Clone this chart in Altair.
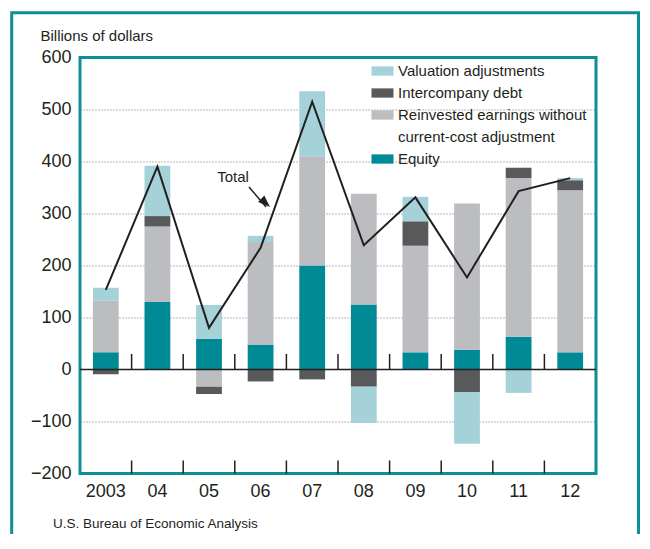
import altair as alt
import pandas as pd

# ---------------- data (billions of dollars) ----------------
years = ["2003", "04", "05", "06", "07", "08", "09", "10", "11", "12"]
equity = [33, 130, 59, 48, 200, 125, 33, 38, 63, 33]
reinvested = [99, 145, -33, 197, 210, 213, 205, 281, 305, 312]
intercompany = [-9, 20, -14, -23, -19, -33, 47, -44, 20, 19]
valuation = [25, 97, 65, 12, 125, -70, 47, -99, -45, 4]
total = [153, 390, 80, 234, 515, 239, 331, 177, 343, 368]

S_VAL = "Valuation adjustments"
S_DEBT = "Intercompany debt"
S_REINV = "Reinvested earnings without current-cost adjustment"
S_REINV2 = "current-cost adjustment"   # second legend line (no bars)
S_EQ = "Equity"

series_names = [S_EQ, S_REINV, S_DEBT, S_VAL]           # stacking order (bottom first)
series_values = [equity, reinvested, intercompany, valuation]
legend_order = [S_VAL, S_DEBT, S_REINV, S_REINV2, S_EQ]

# ---------------- styles ----------------
FONT = "Liberation Sans, Arial, Helvetica, sans-serif"
TXT = "#231f20"
TEAL_FRAME = "#0e8f97"
C_VAL = "#a5d2d8"
C_DEBT = "#58595b"
C_REINV = "#bcbdc1"
C_EQ = "#008a96"
legend_colors = [C_VAL, C_DEBT, C_REINV, "rgba(0,0,0,0)", C_EQ]

PLOT_W = 516
PLOT_H = 416
STEP = PLOT_W / len(years)

rows = []
for o, (name, vals) in enumerate(zip(series_names, series_values)):
    for yr, v in zip(years, vals):
        rows.append({"year": yr, "series": name, "value": v, "o": o})
df_bars = pd.DataFrame(rows)
df_total = pd.DataFrame({"year": years, "total": total})

# separator ticks: a short one rising from the zero line and one from the bottom edge
tick_years = years[:-1]
df_ticks = pd.DataFrame({
    "year": tick_years * 2,
    "ya": [0] * len(tick_years) + [-200] * len(tick_years),
    "yb": [30] * len(tick_years) + [-175] * len(tick_years),
})

YTITLE = "Billions of dollars"
xscale = alt.Scale(paddingInner=0.5, paddingOuter=0.25)
yscale = alt.Scale(domain=[-200, 600], nice=False, zero=False)

yaxis = alt.Axis(
    values=[-200, -100, 0, 100, 200, 300, 400, 500, 600],
    ticks=False, tickSize=0, domain=False, labelPadding=9,
    labelFontSize=18, labelFont=FONT, labelColor=TXT,
    grid=True, gridDash=[1, 2], gridColor="#6d6e71", gridWidth=1,
    gridOpacity={"condition": {"test": "datum.value == 0 || datum.value == 600 || datum.value == -200", "value": 0}, "value": 1},
    title=YTITLE, titleAngle=0, titleX=-40, titleY=-17, titleAlign="left",
    titleBaseline="alphabetic", titleFontSize=15, titleFontWeight="normal",
    titleFont=FONT, titleColor=TXT,
)
xaxis = alt.Axis(
    title=None, ticks=False, tickSize=0, domain=False, labelAngle=0,
    labelPadding=8.5, labelFontSize=18, labelFont=FONT, labelColor=TXT,
    labelBaseline="top", grid=False,
)

LEG_PATH = "M-1,-0.42H1V0.42H-1Z"
legend = alt.Legend(
    title=None, orient="none", legendX=291.5, legendY=2.5,
    symbolType=LEG_PATH, symbolSize=484, symbolStrokeWidth=0, symbolOpacity=1,
    labelFontSize=15, labelFont=FONT, labelColor=TXT, labelOffset=4.5,
    labelLimit=400, rowPadding=3, padding=0,
    labelExpr="datum.label == '" + S_REINV + "' ? 'Reinvested earnings without' : datum.label",
)

bars = alt.Chart(df_bars).mark_bar().encode(
    x=alt.X("year:N", sort=years, scale=xscale, axis=xaxis),
    y=alt.Y("value:Q", stack="zero", scale=yscale, axis=yaxis),
    color=alt.Color("series:N", scale=alt.Scale(domain=legend_order, range=legend_colors), legend=legend),
    order=alt.Order("o:Q", sort="ascending"),
)

zero_rule = alt.Chart(pd.DataFrame({"v": [0]})).mark_rule(color=TXT, strokeWidth=1.5).encode(
    y=alt.Y("v:Q", title=YTITLE)
)

# halfway between bars: band centre + half a step
ticks = alt.Chart(df_ticks).mark_rule(
    color=TXT, strokeWidth=1.5, xOffset=STEP / 2
).encode(
    x=alt.X("year:N", sort=years, title=None),
    y=alt.Y("ya:Q", title=YTITLE),
    y2=alt.Y2("yb"),
)

line = alt.Chart(df_total).mark_line(color=TXT, strokeWidth=2).encode(
    x=alt.X("year:N", sort=years, title=None),
    y=alt.Y("total:Q", title=YTITLE),
)

# "Total" annotation with arrow
ann = pd.DataFrame({"year": ["06"], "ty": [370], "ay": [351], "ay2": [312.5], "label": ["Total"]})
ann_text = alt.Chart(ann).mark_text(
    dx=-27.6, fontSize=15, font=FONT, color=TXT, align="center", baseline="middle"
).encode(x=alt.X("year:N", sort=years, title=None), y=alt.Y("ty:Q", title=YTITLE), text="label:N")

ann_rule = alt.Chart(ann).mark_rule(
    color=TXT, strokeWidth=1.5, xOffset=-11.6, x2Offset=5.5
).encode(
    x=alt.X("year:N", sort=years, title=None), x2=alt.X2("year"),
    y=alt.Y("ay:Q", title=YTITLE), y2=alt.Y2("ay2"),
)
ann_head = alt.Chart(ann).mark_point(
    shape="M0,0L0.6,1.6L-0.6,1.6Z", size=225, angle=133, filled=True,
    color=TXT, opacity=1, xOffset=9.4, strokeWidth=0,
).encode(x=alt.X("year:N", sort=years, title=None), y=alt.Y("ay2:Q", title=YTITLE))

source = alt.Chart(pd.DataFrame({"t": ["U.S. Bureau of Economic Analysis"]})).mark_text(
    align="left", baseline="alphabetic", fontSize=13.5, font=FONT, color=TXT
).encode(x=alt.value(-27), y=alt.value(470), text="t:N")

frame = alt.Chart(pd.DataFrame({"a": [0]})).mark_rect(
    fillOpacity=0, stroke=TEAL_FRAME, strokeWidth=3
).encode(x=alt.value(-68.3), x2=alt.value(558.5), y=alt.value(-44.8), y2=alt.value(530))

chart = alt.layer(
    bars, zero_rule, ticks, line, ann_rule, ann_head, ann_text, source, frame
).properties(
    width=PLOT_W, height=PLOT_H,
    autosize=alt.AutoSizeParams(type="none"),
    padding={"left": 72, "top": 49.5, "right": 44, "bottom": 60},
    background="white",
).configure_view(
    stroke=TEAL_FRAME, strokeWidth=3
).configure_axis(
    labelFont=FONT
)

chart.save("out.html", embed_options={"renderer": "svg", "actions": False})
